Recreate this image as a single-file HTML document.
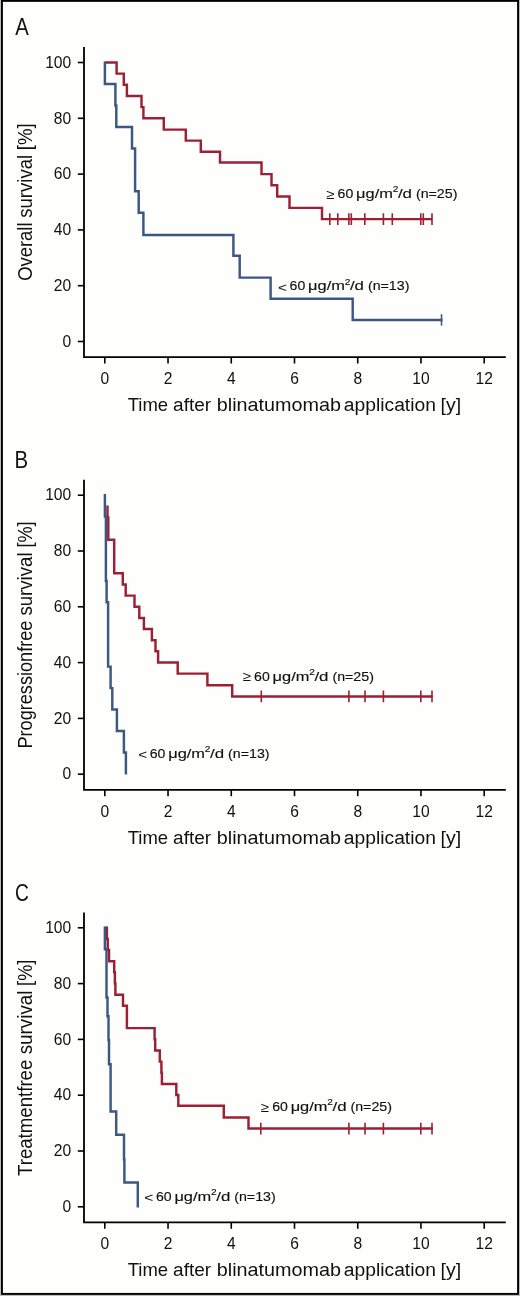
<!DOCTYPE html><html><head><meta charset="utf-8"><style>html,body{margin:0;padding:0;background:#bcbcbc;}svg{display:block;will-change:transform;}text{font-family:"Liberation Sans", sans-serif;fill:#111;}</style></head><body>
<svg width="520" height="1296" viewBox="0 0 520 1296">
<rect x="0" y="0" width="520" height="1296" fill="#bcbcbc"/>
<rect x="1.95" y="0.9" width="516.1" height="1293.0" fill="#fefefd" stroke="#000" stroke-width="1.9"/>
<g><text transform="translate(15.26 34.6) scale(0.845 1)" font-size="24">A</text><path d="M84 47.1V357.1H505.8" fill="none" stroke="#000" stroke-width="1.8" stroke-linejoin="miter" stroke-linecap="butt"/><path d="M77.8 341.50H84" stroke="#000" stroke-width="1.6"/><text x="71.2" y="346.70" font-size="15.6" text-anchor="end">0</text><path d="M77.8 285.70H84" stroke="#000" stroke-width="1.6"/><text x="71.2" y="290.90" font-size="15.6" text-anchor="end">20</text><path d="M77.8 229.90H84" stroke="#000" stroke-width="1.6"/><text x="71.2" y="235.10" font-size="15.6" text-anchor="end">40</text><path d="M77.8 174.10H84" stroke="#000" stroke-width="1.6"/><text x="71.2" y="179.30" font-size="15.6" text-anchor="end">60</text><path d="M77.8 118.30H84" stroke="#000" stroke-width="1.6"/><text x="71.2" y="123.50" font-size="15.6" text-anchor="end">80</text><path d="M77.8 62.50H84" stroke="#000" stroke-width="1.6"/><text x="71.2" y="67.70" font-size="15.6" text-anchor="end">100</text><path d="M104.80 357.1V363.5" stroke="#000" stroke-width="1.6"/><text x="104.80" y="383.8" font-size="15.6" text-anchor="middle">0</text><path d="M168.03 357.1V363.5" stroke="#000" stroke-width="1.6"/><text x="168.03" y="383.8" font-size="15.6" text-anchor="middle">2</text><path d="M231.27 357.1V363.5" stroke="#000" stroke-width="1.6"/><text x="231.27" y="383.8" font-size="15.6" text-anchor="middle">4</text><path d="M294.50 357.1V363.5" stroke="#000" stroke-width="1.6"/><text x="294.50" y="383.8" font-size="15.6" text-anchor="middle">6</text><path d="M357.74 357.1V363.5" stroke="#000" stroke-width="1.6"/><text x="357.74" y="383.8" font-size="15.6" text-anchor="middle">8</text><path d="M420.97 357.1V363.5" stroke="#000" stroke-width="1.6"/><text x="420.97" y="383.8" font-size="15.6" text-anchor="middle">10</text><path d="M484.20 357.1V363.5" stroke="#000" stroke-width="1.6"/><text x="484.20" y="383.8" font-size="15.6" text-anchor="middle">12</text><text transform="translate(127.68 410.80) scale(0.9642 1)" font-size="19.2">Time</text><text transform="translate(173.09 410.80) scale(0.9897 1)" font-size="19.2">after</text><text transform="translate(216.82 410.80) scale(1.0307 1)" font-size="19.2">blinatumomab</text><text transform="translate(343.78 410.80) scale(1.0046 1)" font-size="19.2">application</text><text transform="translate(440.51 410.80) scale(1.0182 1)" font-size="19.2">[y]</text><text transform="translate(31.75 280.87) rotate(-90) scale(0.9313 1)" font-size="19.8">Overall</text><text transform="translate(31.75 217.72) rotate(-90) scale(0.9365 1)" font-size="19.8">survival</text><text transform="translate(31.75 150.13) rotate(-90) scale(0.9424 1)" font-size="19.8">[%]</text><path d="M104.9 62.5H116.6V73.6H123.8V84.8H126.9V96.0H141.5V107.1H143.4V118.3H163.8V129.6H185.8V140.6H200.8V151.7H220V162.5H261.5V174.1H271.5V185.2H277.2V196.4H289.5V207.85H322V219.1H432.3" fill="none" stroke="#9b2035" stroke-width="2.45" stroke-linejoin="miter"/><path d="M329.8 213.3V224.9M337.8 213.3V224.9M348.9 213.3V224.9M351.3 213.3V224.9M364.8 213.3V224.9M383.4 213.3V224.9M392.3 213.3V224.9M420.8 213.3V224.9M423.3 213.3V224.9M432.0 213.3V224.9" stroke="#9b2035" stroke-width="1.6"/><path d="M104.9 61.4V84.0H115.4V105.4H116.3V126.9H132.0V148.4H135.1V191.3H138.7V212.7H143.4V234.9H233.4V255.8H239.7V277.6H270.6V298.8H352.7V319.9H442.6" fill="none" stroke="#3c5781" stroke-width="2.45" stroke-linejoin="miter"/><path d="M441.5 314.2V325.6" stroke="#3c5781" stroke-width="1.6"/><text transform="translate(326.32 198.50) scale(1.1048 1)" font-size="13.6" fill="#9a9a9a">≥</text><text transform="translate(337.58 198.00) scale(1.0356 1)" font-size="13.6" stroke="#111" stroke-width="0.15">60</text><text transform="translate(356.09 198.00) scale(1.2058 1)" font-size="13.6" stroke="#111" stroke-width="0.15">μg/m</text><text transform="translate(392.69 192.20) scale(1.0303 1)" font-size="9.8" stroke="#111" stroke-width="0.15">2</text><text transform="translate(397.90 198.00) scale(1.2422 1)" font-size="13.6" stroke="#111" stroke-width="0.15">/d</text><text transform="translate(415.92 198.00) scale(1.0473 1)" font-size="13.6" stroke="#111" stroke-width="0.15">(n=25)</text><text transform="translate(278.04 291.50) scale(1.1351 1)" font-size="13.6" fill="#9a9a9a">&lt;</text><text transform="translate(289.58 290.40) scale(1.0356 1)" font-size="13.6" stroke="#111" stroke-width="0.15">60</text><text transform="translate(308.09 290.40) scale(1.2058 1)" font-size="13.6" stroke="#111" stroke-width="0.15">μg/m</text><text transform="translate(344.69 284.60) scale(1.0303 1)" font-size="9.8" stroke="#111" stroke-width="0.15">2</text><text transform="translate(349.90 290.40) scale(1.2422 1)" font-size="13.6" stroke="#111" stroke-width="0.15">/d</text><text transform="translate(367.92 290.40) scale(1.0473 1)" font-size="13.6" stroke="#111" stroke-width="0.15">(n=13)</text></g>
<g><text transform="translate(14.58 467.9) scale(0.85 1)" font-size="24">B</text><path d="M84 479.8V789.8H505.8" fill="none" stroke="#000" stroke-width="1.8" stroke-linejoin="miter" stroke-linecap="butt"/><path d="M77.8 774.20H84" stroke="#000" stroke-width="1.6"/><text x="71.2" y="779.40" font-size="15.6" text-anchor="end">0</text><path d="M77.8 718.40H84" stroke="#000" stroke-width="1.6"/><text x="71.2" y="723.60" font-size="15.6" text-anchor="end">20</text><path d="M77.8 662.60H84" stroke="#000" stroke-width="1.6"/><text x="71.2" y="667.80" font-size="15.6" text-anchor="end">40</text><path d="M77.8 606.80H84" stroke="#000" stroke-width="1.6"/><text x="71.2" y="612.00" font-size="15.6" text-anchor="end">60</text><path d="M77.8 551.00H84" stroke="#000" stroke-width="1.6"/><text x="71.2" y="556.20" font-size="15.6" text-anchor="end">80</text><path d="M77.8 495.20H84" stroke="#000" stroke-width="1.6"/><text x="71.2" y="500.40" font-size="15.6" text-anchor="end">100</text><path d="M104.80 789.8V796.2" stroke="#000" stroke-width="1.6"/><text x="104.80" y="816.5" font-size="15.6" text-anchor="middle">0</text><path d="M168.03 789.8V796.2" stroke="#000" stroke-width="1.6"/><text x="168.03" y="816.5" font-size="15.6" text-anchor="middle">2</text><path d="M231.27 789.8V796.2" stroke="#000" stroke-width="1.6"/><text x="231.27" y="816.5" font-size="15.6" text-anchor="middle">4</text><path d="M294.50 789.8V796.2" stroke="#000" stroke-width="1.6"/><text x="294.50" y="816.5" font-size="15.6" text-anchor="middle">6</text><path d="M357.74 789.8V796.2" stroke="#000" stroke-width="1.6"/><text x="357.74" y="816.5" font-size="15.6" text-anchor="middle">8</text><path d="M420.97 789.8V796.2" stroke="#000" stroke-width="1.6"/><text x="420.97" y="816.5" font-size="15.6" text-anchor="middle">10</text><path d="M484.20 789.8V796.2" stroke="#000" stroke-width="1.6"/><text x="484.20" y="816.5" font-size="15.6" text-anchor="middle">12</text><text transform="translate(127.68 843.50) scale(0.9642 1)" font-size="19.2">Time</text><text transform="translate(173.09 843.50) scale(0.9897 1)" font-size="19.2">after</text><text transform="translate(216.82 843.50) scale(1.0307 1)" font-size="19.2">blinatumomab</text><text transform="translate(343.78 843.50) scale(1.0046 1)" font-size="19.2">application</text><text transform="translate(440.51 843.50) scale(1.0182 1)" font-size="19.2">[y]</text><text transform="translate(31.75 748.59) rotate(-90) scale(0.9165 1)" font-size="19.8">Progressionfree</text><text transform="translate(31.75 615.62) rotate(-90) scale(0.9411 1)" font-size="19.8">survival</text><text transform="translate(31.75 547.60) rotate(-90) scale(0.9192 1)" font-size="19.8">[%]</text><path d="M107.5 505.4V517.5H108.3V539.8H114.2V573.3H122.8V584.4H125.7V595.6H134.5V606.7H139.3V617.9H143.9V629.0H151.9V640.2H155.5V651.3H158.1V662.5H177.7V673.6H207.4V685.3H232.2V696.4H432.8" fill="none" stroke="#9b2035" stroke-width="2.45" stroke-linejoin="miter"/><path d="M261.3 690.6V702.2M348.9 690.6V702.2M365.0 690.6V702.2M383.4 690.6V702.2M420.8 690.6V702.2M432.0 690.6V702.2" stroke="#9b2035" stroke-width="1.6"/><path d="M104.9 494.1V516.6H105.9V580.9H106.6V602.3H108.1V666.6H110.6V688.1H112.3V709.5H116.9V731.0H123.9V752.4H125.9V774.6" fill="none" stroke="#3c5781" stroke-width="2.45" stroke-linejoin="miter"/><text transform="translate(242.82 681.30) scale(1.1048 1)" font-size="13.6" fill="#9a9a9a">≥</text><text transform="translate(254.08 680.80) scale(1.0356 1)" font-size="13.6" stroke="#111" stroke-width="0.15">60</text><text transform="translate(272.59 680.80) scale(1.2058 1)" font-size="13.6" stroke="#111" stroke-width="0.15">μg/m</text><text transform="translate(309.19 675.00) scale(1.0303 1)" font-size="9.8" stroke="#111" stroke-width="0.15">2</text><text transform="translate(314.40 680.80) scale(1.2422 1)" font-size="13.6" stroke="#111" stroke-width="0.15">/d</text><text transform="translate(332.42 680.80) scale(1.0473 1)" font-size="13.6" stroke="#111" stroke-width="0.15">(n=25)</text><text transform="translate(138.14 759.00) scale(1.1351 1)" font-size="13.6" fill="#9a9a9a">&lt;</text><text transform="translate(149.68 757.90) scale(1.0356 1)" font-size="13.6" stroke="#111" stroke-width="0.15">60</text><text transform="translate(168.19 757.90) scale(1.2058 1)" font-size="13.6" stroke="#111" stroke-width="0.15">μg/m</text><text transform="translate(204.79 752.10) scale(1.0303 1)" font-size="9.8" stroke="#111" stroke-width="0.15">2</text><text transform="translate(210.00 757.90) scale(1.2422 1)" font-size="13.6" stroke="#111" stroke-width="0.15">/d</text><text transform="translate(228.02 757.90) scale(1.0473 1)" font-size="13.6" stroke="#111" stroke-width="0.15">(n=13)</text></g>
<g><text transform="translate(15.0 900.9) scale(0.8 1)" font-size="24">C</text><path d="M84 912.4V1222.4H505.8" fill="none" stroke="#000" stroke-width="1.8" stroke-linejoin="miter" stroke-linecap="butt"/><path d="M77.8 1206.80H84" stroke="#000" stroke-width="1.6"/><text x="71.2" y="1212.00" font-size="15.6" text-anchor="end">0</text><path d="M77.8 1151.00H84" stroke="#000" stroke-width="1.6"/><text x="71.2" y="1156.20" font-size="15.6" text-anchor="end">20</text><path d="M77.8 1095.20H84" stroke="#000" stroke-width="1.6"/><text x="71.2" y="1100.40" font-size="15.6" text-anchor="end">40</text><path d="M77.8 1039.40H84" stroke="#000" stroke-width="1.6"/><text x="71.2" y="1044.60" font-size="15.6" text-anchor="end">60</text><path d="M77.8 983.60H84" stroke="#000" stroke-width="1.6"/><text x="71.2" y="988.80" font-size="15.6" text-anchor="end">80</text><path d="M77.8 927.80H84" stroke="#000" stroke-width="1.6"/><text x="71.2" y="933.00" font-size="15.6" text-anchor="end">100</text><path d="M104.80 1222.4V1228.8" stroke="#000" stroke-width="1.6"/><text x="104.80" y="1249.1" font-size="15.6" text-anchor="middle">0</text><path d="M168.03 1222.4V1228.8" stroke="#000" stroke-width="1.6"/><text x="168.03" y="1249.1" font-size="15.6" text-anchor="middle">2</text><path d="M231.27 1222.4V1228.8" stroke="#000" stroke-width="1.6"/><text x="231.27" y="1249.1" font-size="15.6" text-anchor="middle">4</text><path d="M294.50 1222.4V1228.8" stroke="#000" stroke-width="1.6"/><text x="294.50" y="1249.1" font-size="15.6" text-anchor="middle">6</text><path d="M357.74 1222.4V1228.8" stroke="#000" stroke-width="1.6"/><text x="357.74" y="1249.1" font-size="15.6" text-anchor="middle">8</text><path d="M420.97 1222.4V1228.8" stroke="#000" stroke-width="1.6"/><text x="420.97" y="1249.1" font-size="15.6" text-anchor="middle">10</text><path d="M484.20 1222.4V1228.8" stroke="#000" stroke-width="1.6"/><text x="484.20" y="1249.1" font-size="15.6" text-anchor="middle">12</text><text transform="translate(127.68 1276.10) scale(0.9642 1)" font-size="19.2">Time</text><text transform="translate(173.09 1276.10) scale(0.9897 1)" font-size="19.2">after</text><text transform="translate(216.82 1276.10) scale(1.0307 1)" font-size="19.2">blinatumomab</text><text transform="translate(343.78 1276.10) scale(1.0046 1)" font-size="19.2">application</text><text transform="translate(440.51 1276.10) scale(1.0182 1)" font-size="19.2">[y]</text><text transform="translate(31.75 1176.02) rotate(-90) scale(0.9417 1)" font-size="19.8">Treatmentfree</text><text transform="translate(31.75 1054.32) rotate(-90) scale(0.9519 1)" font-size="19.8">survival</text><text transform="translate(31.75 985.89) rotate(-90) scale(0.9153 1)" font-size="19.8">[%]</text><path d="M104.9 927.7H106.9V938.9H107.75V950.0H109.05V961.2H114.2V972.3H114.9V983.5H115.4V994.7H123.0V1005.8H126.9V1028.1H154.6V1039.3H155.2V1050.4H159.8V1061.6H161.4V1072.7H161.9V1083.9H176.3V1095.0H178.3V1105.8H223.8V1117.4H248.5V1128.5H432.8" fill="none" stroke="#9b2035" stroke-width="2.45" stroke-linejoin="miter"/><path d="M260.8 1122.8V1134.4M348.9 1122.8V1134.4M365.0 1122.8V1134.4M383.4 1122.8V1134.4M420.8 1122.8V1134.4M432.0 1122.8V1134.4" stroke="#9b2035" stroke-width="1.6"/><path d="M104.9 926.6V949.3H106.5V997.5H107.5V1016.2H108.5V1039.9H109.0V1064.3H110.6V1111.5H116.2V1134.8H124.0V1159.4H124.4V1182.4H137.8V1207.5" fill="none" stroke="#3c5781" stroke-width="2.45" stroke-linejoin="miter"/><text transform="translate(260.87 1111.60) scale(1.1048 1)" font-size="13.6" fill="#9a9a9a">≥</text><text transform="translate(272.13 1111.10) scale(1.0356 1)" font-size="13.6" stroke="#111" stroke-width="0.15">60</text><text transform="translate(290.64 1111.10) scale(1.2058 1)" font-size="13.6" stroke="#111" stroke-width="0.15">μg/m</text><text transform="translate(327.24 1105.30) scale(1.0303 1)" font-size="9.8" stroke="#111" stroke-width="0.15">2</text><text transform="translate(332.45 1111.10) scale(1.2422 1)" font-size="13.6" stroke="#111" stroke-width="0.15">/d</text><text transform="translate(350.47 1111.10) scale(1.0473 1)" font-size="13.6" stroke="#111" stroke-width="0.15">(n=25)</text><text transform="translate(144.34 1202.10) scale(1.1351 1)" font-size="13.6" fill="#9a9a9a">&lt;</text><text transform="translate(155.88 1201.00) scale(1.0356 1)" font-size="13.6" stroke="#111" stroke-width="0.15">60</text><text transform="translate(174.39 1201.00) scale(1.2058 1)" font-size="13.6" stroke="#111" stroke-width="0.15">μg/m</text><text transform="translate(210.99 1195.20) scale(1.0303 1)" font-size="9.8" stroke="#111" stroke-width="0.15">2</text><text transform="translate(216.20 1201.00) scale(1.2422 1)" font-size="13.6" stroke="#111" stroke-width="0.15">/d</text><text transform="translate(234.22 1201.00) scale(1.0473 1)" font-size="13.6" stroke="#111" stroke-width="0.15">(n=13)</text></g>
</svg></body></html>
